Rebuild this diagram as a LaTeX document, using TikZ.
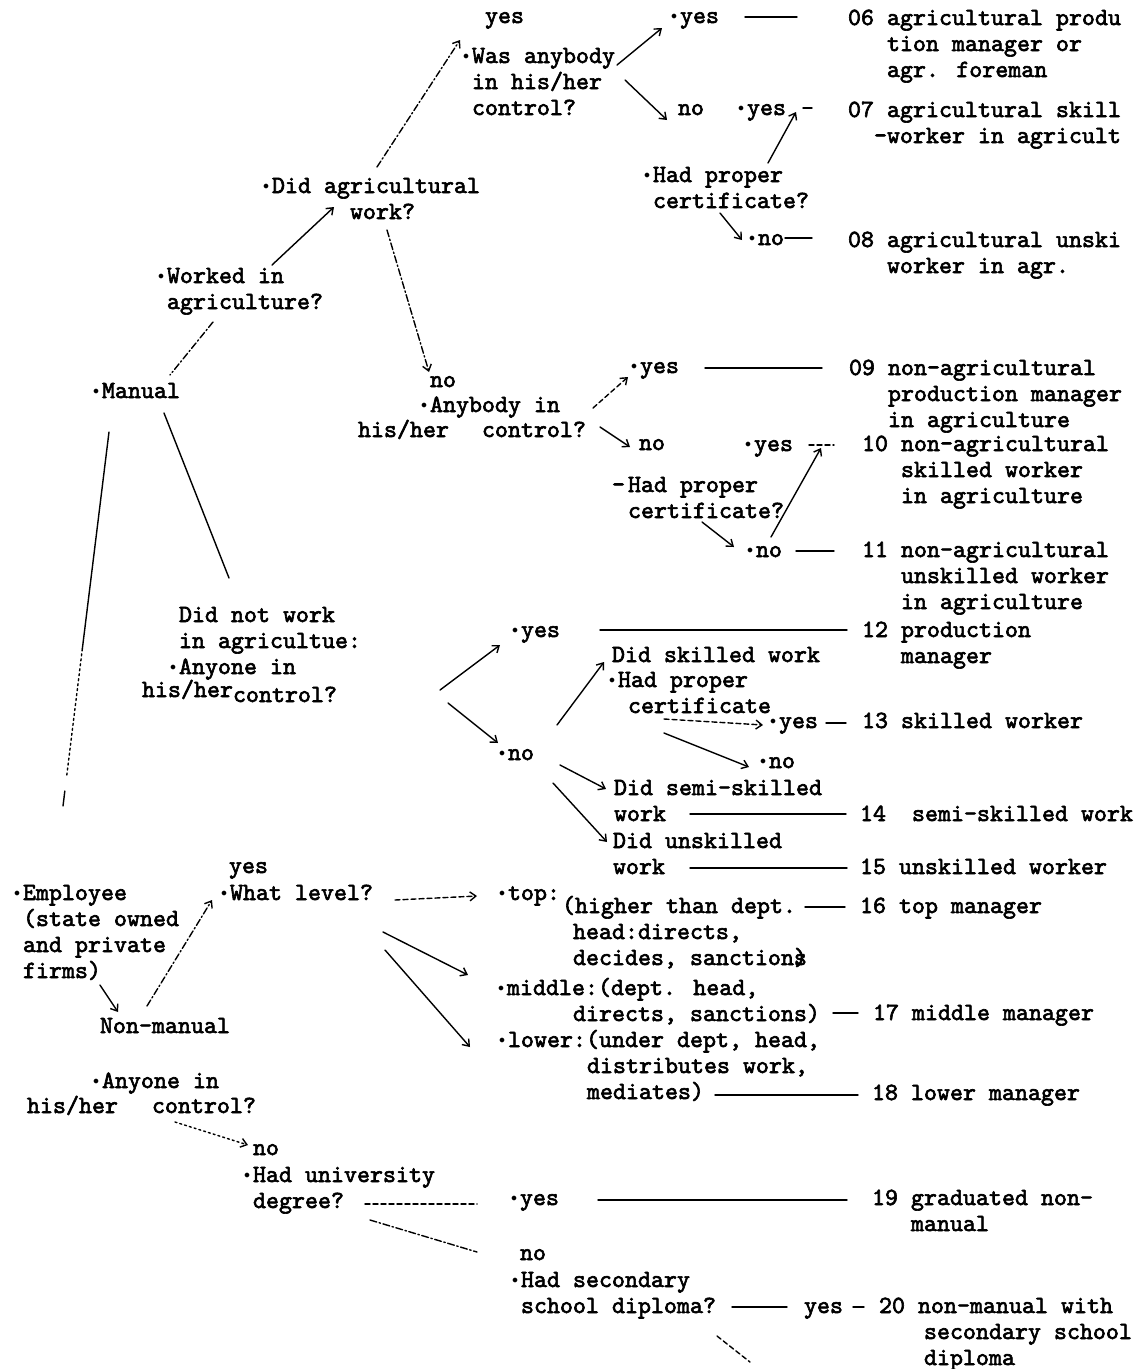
\documentclass[tikz,border=0pt]{standalone}
\usepackage{fontspec}
\newfontfamily\tw{lmmono10-regular.otf}[FakeBold=2.5]
\usetikzlibrary{arrows.meta,calc}
\newcommand\ts{\rule{0pt}{21pt}}
\newcommand\bul{\makebox[0pt][r]{\raisebox{4pt}{$\scriptscriptstyle\bullet$}\hspace{3pt}}}
\newcommand\ind[1]{\hspace*{#1pt}}
\tikzset{
  tx/.style={anchor=north west, inner sep=0pt, outer sep=0pt, align=left,
             font=\tw\fontsize{24.76}{26}\selectfont},
  ln/.style={line width=1.4pt, line cap=round},
  ar/.style={ln, -{Straight Barb[length=6pt,width=9pt]}},
  dd/.style={dash pattern=on 7pt off 2.5pt on 1.5pt off 2.5pt},
  ds/.style={dash pattern=on 5pt off 3pt},
  dt/.style={dash pattern=on 2pt off 3pt}
}
\begin{document}
\begin{tikzpicture}[x=1pt,y=-1pt]
\fill[white] (0,0) rectangle (1134,1369);
\useasboundingbox (0,0) rectangle (1134,1369);
\clip (0,0) rectangle (1134,1369);

% ---------- upper part: manual ----------
\node[tx] (yesA)   at (485,2)    {\ts yes};
\node[tx] (wasany) at (472,42)   {\ts\bul Was anybody\\in his/her\\control?};
\node[tx] (yes06)  at (680,2)    {\ts\bul yes};
\node[tx] (r06)    at (848,4)    {\ts 06 agricultural produ\\\ind{39}tion manager or\\\ind{39}agr. foreman};
\node[tx] (no07)   at (678,94)   {\ts no};
\node[tx] (yes07)  at (747,94)   {\ts\bul yes};
\node[tx] (r07)    at (848,96)   {\ts 07 agricultural skill\\\ind{39}\llap{-}worker in agricult};
\node[tx] (cert1)  at (653,161)  {\ts\bul Had proper\\certificate?};
\node[tx] (no08)   at (758,224)  {\ts\bul no};
\node[tx] (r08)    at (848,226)  {\ts 08 agricultural unski\\\ind{39}worker in agr.};
\node[tx] (dag)    at (272,172)  {\ts\bul Did agricultural\\\ind{78}work?};
\node[tx] (worked) at (167,262)  {\ts\bul Worked in\\agriculture?};
\node[tx] (manual) at (102,377)  {\ts\bul Manual};
\node[tx] (noA)    at (430,366)  {\ts no};
\node[tx] (anyb)   at (430,391)  {\ts\bul Anybody in};
\node[tx] (anyb2)  at (358,416)  {\ts his/her\hspace{33pt}control?};
\node[tx] (yes09)  at (640,352)  {\ts\bul yes};
\node[tx] (r09)    at (849,354)  {\ts 09 non-agricultural\\\ind{39}production manager\\\ind{39}in agriculture};
\node[tx] (no10)   at (639,429)  {\ts no};
\node[tx] (yes10)  at (754,430)  {\ts\bul yes};
\node[tx] (r10)    at (862,430)  {\ts 10 non-agricultural\\\ind{39}skilled worker\\\ind{39}in agriculture};
\node[tx] (cert2)  at (628,471)  {\ts\llap{-\hspace{3pt}}Had proper\\certificate?};
\node[tx] (no11)   at (756,536)  {\ts\bul no};
\node[tx] (r11)    at (862,536)  {\ts 11 non-agricultural\\\ind{39}unskilled worker\\\ind{39}in agriculture};
\node[tx] (yes12)  at (521,616)  {\ts\bul yes};
\node[tx] (r12)    at (862,616)  {\ts 12 production\\\ind{39}manager};
\node[tx] (notag)  at (179,601)  {\ts Did not work\\in agricultue:\\\bul Anyone in};
\node[tx] (notag2) at (142,676)  {\ts his/her\raisebox{-5pt}{control?}};
\node[tx] (no12)   at (508,739)  {\ts\bul no};
\node[tx] (skil)   at (612,641)  {\ts Did skilled work};
\node[tx] (cert3)  at (618,666)  {\ts\bul Had proper\\\ind{10}certificate};
\node[tx] (yes13)  at (779,707)  {\ts\bul yes};
\node[tx] (r13)    at (862,707)  {\ts 13 skilled worker};
\node[tx] (no13)   at (769,747)  {\ts\bul no};
\node[tx] (semi)   at (614,774)  {\ts Did semi-skilled\\work};
\node[tx] (r14)    at (860,800)  {\ts 14\ \ semi-skilled work};
\node[tx] (unsk)   at (613,827)  {\ts Did unskilled\\work};
\node[tx] (r15)    at (860,853)  {\ts 15 unskilled worker};

% ---------- lower part: non-manual ----------
\node[tx] (empl)   at (23,879)   {\ts\bul Employee\\(state owned\\and private\\firms)};
\node[tx] (nonman) at (100,1012) {\ts Non-manual};
\node[tx] (yesWL)  at (229,852)  {\ts yes};
\node[tx] (whatlv) at (230,879)  {\ts\bul What level?};
\node[tx] (top)    at (508,879)  {\ts\bul top:};
\node[tx] (topd)   at (562,892)  {\ts(higher than dept.\\\ind{11}head:directs,\\\ind{11}decides, sanction\rlap{s})};
\node[tx] (r16)    at (860,892)  {\ts 16 top manager};
\node[tx] (mid)    at (507,974)  {\ts\bul middle:(dept. head,\\\ind{66}directs, sanctions)};
\node[tx] (r17)    at (873,999)  {\ts 17 middle manager};
\node[tx] (low)    at (508,1026) {\ts\bul lower:(under dept, head,\\\ind{79}distributes work,\\\ind{79}mediates)};
\node[tx] (r18)    at (872,1079) {\ts 18 lower manager};
\node[tx] (anyo)   at (102,1067) {\ts\bul Anyone in};
\node[tx] (anyo2)  at (27,1092)  {\ts his/her\hspace{34pt}control?};
\node[tx] (noU)    at (253,1134) {\ts no};
\node[tx] (univ)   at (253,1161) {\ts\bul Had university\\degree?};
\node[tx] (yes19)  at (520,1184) {\ts\bul yes};
\node[tx] (r19)    at (872,1184) {\ts 19 graduated non-\\\ind{39}manual};
\node[tx] (noS)    at (520,1239) {\ts no};
\node[tx] (sec)    at (521,1266) {\ts\bul Had secondary\\school diploma?};
\node[tx] (yes20)  at (804,1292) {\ts yes};
\node[tx] (r20)    at (879,1292) {\ts 20 non-manual with\\\ind{45}secondary school\\\ind{45}diploma};
\coordinate (secend) at (750,1362);

% ---------- connectors ----------
\draw[ar,dd] ($(dag.north west)+(105,-5)$) -- ($(wasany.north west)+(-12,-2)$);
\draw[ar]    ($(worked.north west)+(105,3)$) -- ($(dag.north west)+(62,35)$);
\draw[ln,dd] ($(worked.north west)+(46,60)$) -- ($(manual.north west)+(68,-2)$);
\draw[ar,dd] ($(dag.north west)+(115,58)$) -- ($(noA.north west)+(-1,6)$);
\draw[ar]    ($(wasany.north west)+(145,23)$) -- ($(yes06.north west)+(-18,26)$);
\draw[ar]    ($(wasany.north west)+(153,38)$) -- ($(no07.north west)+(-11,26)$);
\draw[ln]    ($(yes06.north west)+(65,15)$) -- ($(r06.north west)+(-51,13)$);
\draw[ar]    ($(cert1.north west)+(115,2)$) -- ($(yes07.north west)+(49,18)$);
\draw[ln]    ($(yes07.north west)+(56,14)$) -- ($(r07.north west)+(-36,12)$);
\draw[ar]    ($(cert1.north west)+(67,52)$) -- ($(no08.north west)+(-16,16)$);
\draw[ln]    ($(no08.north west)+(27,14)$) -- ($(r08.north west)+(-36,12)$);
\draw[ar,ds] ($(anyb.north west)+(163,17)$) -- ($(yes09.north west)+(-12,25)$);
\draw[ln]    ($(yes09.north west)+(65,16)$) -- ($(r09.north west)+(-27,14)$);
\draw[ar]    ($(anyb2.north west)+(242,11)$) -- ($(no10.north west)+(-9,18)$);
\draw[ln,ds] ($(yes10.north west)+(55,15)$) -- ($(r10.north west)+(-28,15)$);
\draw[ar]    ($(no11.north west)+(15,1)$) -- ($(yes10.north west)+(67,18)$);
\draw[ar]    ($(cert2.north west)+(74,51)$) -- ($(no11.north west)+(-22,11)$);
\draw[ln]    ($(no11.north west)+(40,15)$) -- ($(r11.north west)+(-28,15)$);
\draw[ln]    ($(yes12.north west)+(79,14)$) -- ($(r12.north west)+(-15,14)$);
\draw[ln]    ($(manual.north west)+(62,36)$) -- ($(notag.north west)+(50,-23)$);
\coordinate (m1) at ($(manual.north west)+(7,55)$);
\coordinate (m4) at ($(empl.north west)+(40,-73)$);
\draw[ln]    (m1) -- ($(m1)!0.58!(m4)$);
\draw[ln,dt] ($(m1)!0.58!(m4)$) -- ($(m1)!0.92!(m4)$);
\draw[ln]    ($(m1)!0.96!(m4)$) -- (m4);
\draw[ar]    ($(notag.north west)+(261,89)$) -- ($(yes12.north west)+(-21,29)$);
\draw[ar]    ($(notag.north west)+(269,102)$) -- ($(no12.north west)+(-10,4)$);
\draw[ar]    ($(no12.north west)+(49,-14)$) -- ($(skil.north west)+(-8,21)$);
\draw[ar]    ($(no12.north west)+(52,26)$) -- ($(semi.north west)+(-8,15)$);
\draw[ar]    ($(no12.north west)+(45,44)$) -- ($(unsk.north west)+(-6,15)$);
\draw[ar,ds] ($(cert3.north west)+(46,53)$) -- ($(yes13.north west)+(-16,18)$);
\draw[ar]    ($(cert3.north west)+(46,67)$) -- ($(no13.north west)+(-20,20)$);
\draw[ln]    ($(yes13.north west)+(47,16)$) -- ($(r13.north west)+(-16,16)$);
\draw[ln]    ($(semi.north west)+(76,40)$) -- ($(r14.north west)+(-14,14)$);
\draw[ln]    ($(unsk.north west)+(77,41)$) -- ($(r15.north west)+(-13,15)$);

\draw[ar]    ($(empl.north west)+(77,106)$) -- ($(nonman.north west)+(18,0)$);
\draw[ar,dd] ($(nonman.north west)+(47,-6)$) -- ($(whatlv.north west)+(-18,21)$);
\draw[ar,ds] ($(whatlv.north west)+(165,21)$) -- ($(top.north west)+(-31,17)$);
\draw[ar]    ($(whatlv.north west)+(153,53)$) -- ($(mid.north west)+(-39,1)$);
\draw[ar]    ($(whatlv.north west)+(155,71)$) -- ($(low.north west)+(-38,21)$);
\draw[ln]    ($(topd.north west)+(243,15)$) -- ($(r16.north west)+(-15,15)$);
\draw[ln]    ($(mid.north west)+(326,39)$) -- ($(r17.north west)+(-15,14)$);
\draw[ln]    ($(low.north west)+(207,69)$) -- ($(r18.north west)+(-14,16)$);
\draw[ar,dt] ($(anyo2.north west)+(148,30)$) -- ($(noU.north west)+(-5,11)$);
\draw[ln,ds] ($(univ.north west)+(112,43)$) -- ($(yes19.north west)+(-43,20)$);
\draw[ln,dd] ($(univ.north west)+(117,59)$) -- ($(noS.north west)+(-43,13)$);
\draw[ln]    ($(yes19.north west)+(78,16)$) -- ($(r19.north west)+(-25,16)$);
\draw[ln]    ($(sec.north west)+(211,41)$) -- ($(yes20.north west)+(-17,15)$);
\draw[ln]    ($(yes20.north west)+(49,15)$) -- ($(r20.north west)+(-15,15)$);
\draw[ln,ds] ($(sec.north west)+(196,70)$) -- (secend);
\end{tikzpicture}
\end{document}
